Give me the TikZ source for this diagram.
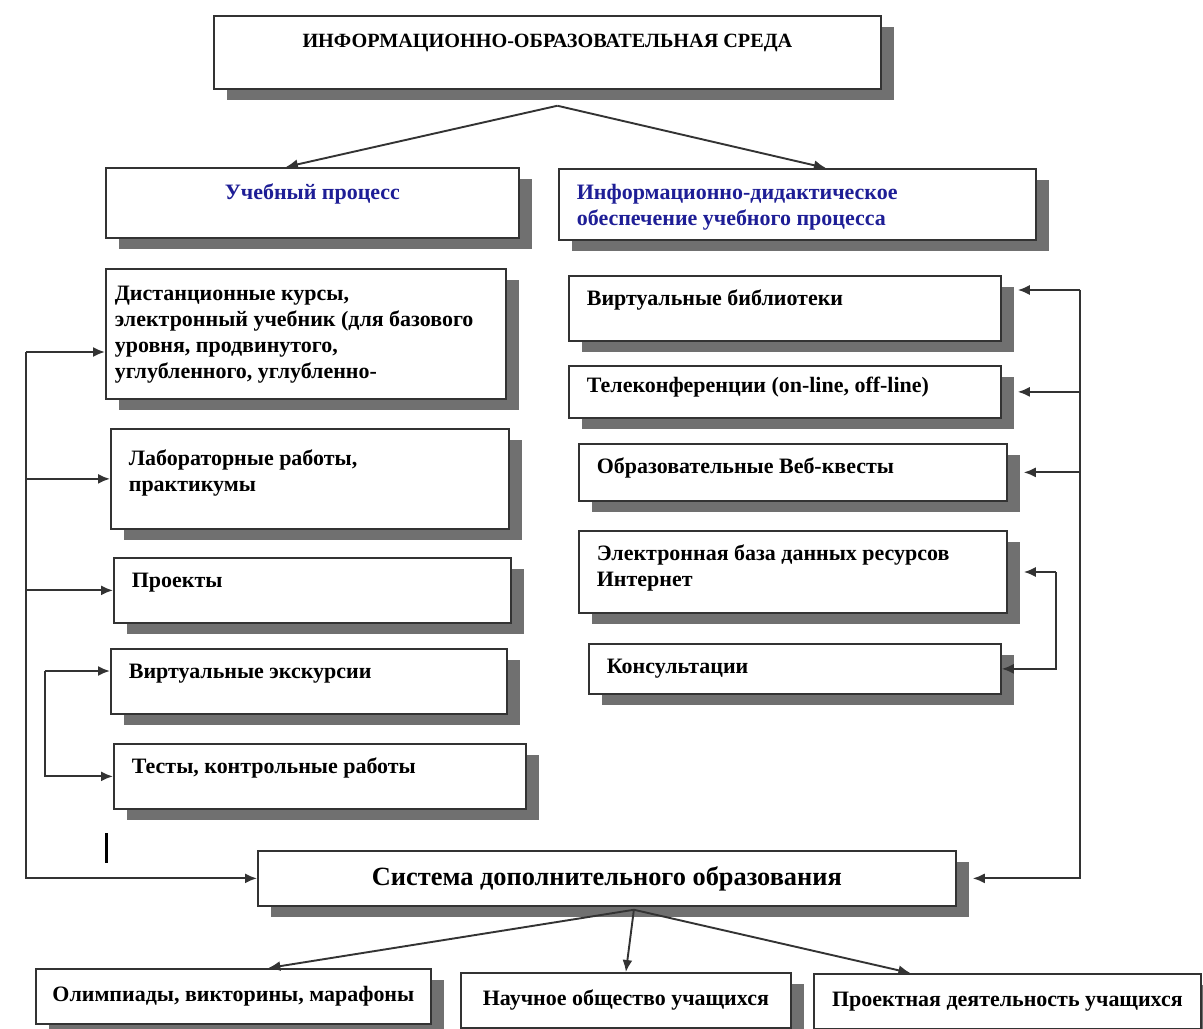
\documentclass[tikz,border=0pt]{standalone}
\usepackage{fontspec}
\setmainfont{Liberation Serif}
\usepackage{tikz}
\usetikzlibrary{positioning,arrows.meta,shadows,calc}
\definecolor{headblue}{RGB}{30,30,150}
\definecolor{shade}{RGB}{112,112,112}

\begin{document}
\begin{tikzpicture}[
   x=0.2mm, y=-0.2mm,
   font=\bfseries\fontsize{12.5}{14.8}\selectfont,
   box/.style={draw=black!80,line width=0.35mm,fill=white,anchor=north west,
      drop shadow={shadow xshift=2.6mm,shadow yshift=-2.2mm,fill=shade,opacity=1}},
   card/.style={box,align=flush left,inner xsep=3.6mm,inner ysep=0pt,text height=6mm},
   head/.style={box,align=center,inner ysep=0pt,text height=6.4mm},
   arr/.style={-{Latex[length=2.4mm,width=2mm]},line width=0.38mm,draw=black!80},
   offtip/.style={shorten >=3.2mm},
]
\useasboundingbox (0,0) rectangle (1203,1028);

\node[head,minimum width=133.4mm,text depth=8.2mm,font=\bfseries\fontsize{11.5}{13}\selectfont] (env) at (213,15)
   {ИНФОРМАЦИОННО-ОБРАЗОВАТЕЛЬНАЯ СРЕДА};
\node[head,text=headblue,minimum width=82.6mm,text depth=7.6mm] (proc) at (105,167) {Учебный процесс};
\node[card,text=headblue,text width=88.2mm,text height=6.2mm,text depth=8mm] (info) at (558,168)
   {Информационно-дидактическое\\обеспечение учебного процесса};

\node[card,inner xsep=1.8mm,text width=76.4mm,text height=6.4mm,text depth=19.6mm] (dist) at (105,268)
   {Дистанционные курсы,\\электронный учебник (для базового\\уровня, продвинутого,\\углубленного, углубленно-};
\node[card,text width=72.4mm,text height=7.4mm,text depth=12.6mm] (lab) at (110,428) {Лабораторные работы,\\практикумы};
\node[card,text width=72.2mm,text depth=7mm] (proj) at (113,557) {Проекты};
\node[card,text width=72mm,text depth=7mm] (exc) at (110,648) {Виртуальные экскурсии};
\node[card,text width=75.2mm,text depth=7mm] (tests) at (113,743) {Тесты, контрольные работы};

\node[card,text width=79.2mm,text depth=7mm] (lib) at (568,275) {Виртуальные библиотеки};
\node[card,text width=79.2mm,text height=5.4mm,text depth=5mm] (conf) at (568,365) {Телеконференции (on-line, off-line)};
\node[card,text width=78.4mm,text depth=5.4mm] (quest) at (578,443) {Образовательные Веб-квесты};
\node[card,text width=78.4mm,text depth=10.4mm] (db) at (578,530) {Электронная база данных ресурсов\\Интернет};
\node[card,text width=75.2mm,text depth=4mm] (cons) at (588,643) {Консультации};

\node[box,minimum width=139.6mm,minimum height=11mm,font=\bfseries\fontsize{15}{18}\selectfont] (sys) at (257,850)
   {Система дополнительного образования};
\node[box,minimum width=79mm,minimum height=11mm] (olymp) at (35,968) {Олимпиады, викторины, марафоны};
\node[box,minimum width=66mm,minimum height=11mm] (sci) at (460,972) {Научное общество учащихся};
\node[box,minimum width=77.4mm,minimum height=11mm] (deed) at (813,973) {Проектная деятельность учащихся};

\coordinate (fork) at ($(env.south)+(10,16)$);
\draw[arr] (fork) -- ([xshift=-5.3mm]proc.north);
\draw[arr] (fork) -- ([xshift=5.7mm]info.north);

\coordinate (lbus) at (26,352);
\draw[arr] (lbus) -- (lbus -| dist.west);
\draw[arr] (lbus) |- (sys.west);
\draw[arr] (lbus |- lab.west) -- (lab.west);
\draw[arr] (lbus |- proj.west) -- (proj.west);
\coordinate (ibar) at (45,671);
\draw[arr] (ibar) -- (ibar -| exc.west);
\draw[arr] (ibar) |- (tests.west);
\coordinate (tick) at (106,833);
\draw[line width=0.6mm] (tick) -- ++(0,30);

\coordinate (rbus) at (1080,290);
\draw[arr,offtip] (rbus) -- (rbus -| lib.east);
\draw[arr,offtip] (rbus) |- (sys.east);
\draw[arr,offtip] (rbus |- conf.east) -- (conf.east);
\draw[arr,offtip] (rbus |- quest.east) -- (quest.east);
\coordinate (cbar) at (1056,572);
\draw[arr,offtip] (cbar) -- (cbar -| db.east);
\draw[arr] (cbar) |- (cons.east);

\coordinate (fan) at ($(sys.south)+(27,3)$);
\draw[arr] (fan) -- ([xshift=7mm]olymp.north);
\draw[arr] (fan) -- (sci.north);
\draw[arr] (fan) -- ([xshift=-19.4mm]deed.north);
\end{tikzpicture}
\end{document}
